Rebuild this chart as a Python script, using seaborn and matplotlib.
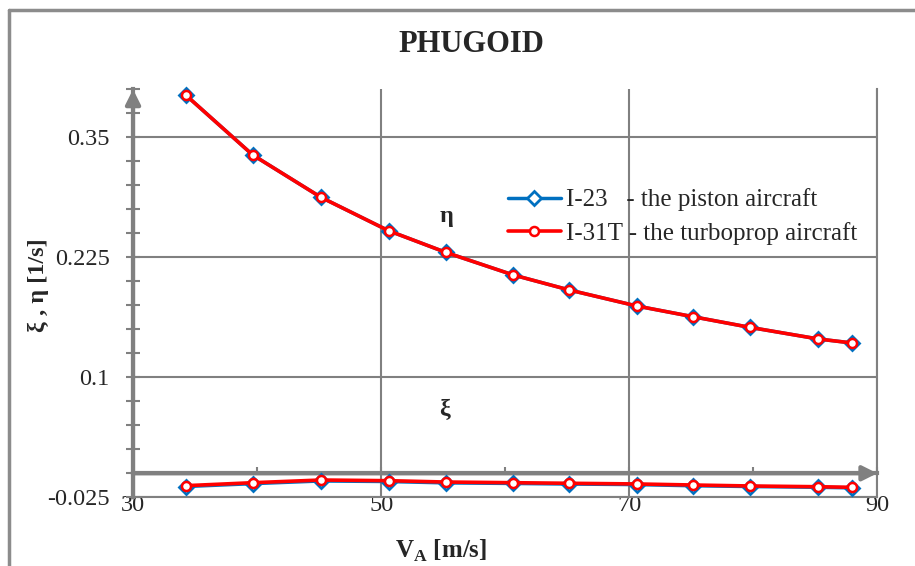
import pandas as pd
import matplotlib.pyplot as plt
import seaborn as sns
from matplotlib.lines import Line2D
from matplotlib.ticker import FixedLocator, MultipleLocator

# flight speed V_A [m/s]
speed = [34.25, 39.65, 45.15, 50.6, 55.2, 60.65, 65.15, 70.6, 75.15, 79.7, 85.25, 88.0]

# I-31T turboprop aircraft
eta_i31t = [0.394, 0.3316, 0.2875, 0.2527, 0.2302, 0.2066, 0.191, 0.1743, 0.1631, 0.1521, 0.1399, 0.1357]
xi_i31t = [-0.0129, -0.0098, -0.0070, -0.0077, -0.0091, -0.0098, -0.0104, -0.0111, -0.0122, -0.0132, -0.0140, -0.0146]

# I-23 piston aircraft
eta_i23 = [0.394, 0.3316, 0.2875, 0.2527, 0.2302, 0.2066, 0.191, 0.1743, 0.1631, 0.1521, 0.1399, 0.1357]
xi_i23 = [-0.0138, -0.0108, -0.0080, -0.0086, -0.0100, -0.0106, -0.0112, -0.0118, -0.0130, -0.0138, -0.0146, -0.0152]

x_ticks = [30, 50, 70, 90]
y_ticks = [-0.025, 0.1, 0.225, 0.35]
y_tick_labels = ['-0.025', '0.1', '0.225', '0.35']

label_i23 = 'I-23   - the piston aircraft'
label_i31t = 'I-31T - the turboprop aircraft'

GREY = '#808080'
BLUE = '#0070C0'
RED = '#FF0000'

sns.set_style('white')
plt.rcParams['font.family'] = ['Liberation Serif', 'DejaVu Serif']
plt.rcParams['mathtext.fontset'] = 'custom'
plt.rcParams['mathtext.rm'] = 'Liberation Serif'
plt.rcParams['mathtext.bf'] = 'Liberation Serif:bold'

df_i23 = pd.DataFrame({'V': speed, 'eta': eta_i23, 'xi': xi_i23})
df_i31t = pd.DataFrame({'V': speed, 'eta': eta_i31t, 'xi': xi_i31t})

fig = plt.figure(figsize=(9.15, 5.66), dpi=100)
ax = fig.add_axes([0.1454, 0.1214, 0.8134, 0.7208])

blue_kw = dict(color=BLUE, lw=2.5, marker='D', markersize=7.5, markerfacecolor='white',
               markeredgecolor=BLUE, markeredgewidth=2, clip_on=False, zorder=4)
red_kw = dict(color=RED, lw=2.6, marker='o', markersize=6.5, markerfacecolor='white',
              markeredgecolor=RED, markeredgewidth=1.8, clip_on=False, zorder=5)

sns.lineplot(data=df_i23, x='V', y='eta', ax=ax, label=label_i23, sort=False, estimator=None, **blue_kw)
sns.lineplot(data=df_i23, x='V', y='xi', ax=ax, sort=False, estimator=None, **blue_kw)
sns.lineplot(data=df_i31t, x='V', y='eta', ax=ax, label=label_i31t, sort=False, estimator=None, **red_kw)
sns.lineplot(data=df_i31t, x='V', y='xi', ax=ax, sort=False, estimator=None, **red_kw)

ax.set_xlim(30, 90)
ax.set_ylim(-0.025, 0.4)

ax.xaxis.set_major_locator(FixedLocator(x_ticks))
ax.xaxis.set_minor_locator(FixedLocator([40, 60, 80]))
ax.yaxis.set_major_locator(FixedLocator(y_ticks))
ax.yaxis.set_minor_locator(MultipleLocator(0.025))
ax.set_yticklabels(y_tick_labels)
ax.grid(True, which='major', color=GREY, lw=1.5)

# axes drawn like the Excel original: y axis at V=30, x axis crossing at 0
ax.spines['top'].set_position(('data', 0))
for side in ['left', 'top']:
    ax.spines[side].set_color(GREY)
    ax.spines[side].set_linewidth(3)
for side in ['bottom', 'right']:
    ax.spines[side].set_color(GREY)
    ax.spines[side].set_linewidth(1.5)

ax.xaxis.set_ticks_position('both')
ax.tick_params(axis='x', which='both', bottom=False, top=True, labelbottom=True, labeltop=False,
               direction='out', length=4.5, width=1.5, color=GREY, labelsize=17.5, pad=-6)
ax.tick_params(axis='y', which='both', left=True, right=False, direction='inout',
               length=9.4, width=1.5, color=GREY, labelsize=17.5, pad=12)

arrow = dict(arrowstyle='-|>', color=GREY, lw=3, mutation_scale=22, shrinkA=0, shrinkB=0)
ax.annotate('', xy=(0, 1), xycoords='axes fraction', xytext=(0, 0), textcoords='axes fraction',
            arrowprops=arrow, annotation_clip=False)
ax.annotate('', xy=(1, 0), xycoords=('axes fraction', 'data'), xytext=(0, 0),
            textcoords=('axes fraction', 'data'), arrowprops=arrow, annotation_clip=False)

ax.set_xlabel(r'V$_{\mathbf{A}}$ [m/s]', fontsize=18, fontweight='bold')
ax.set_ylabel('ξ , η [1/s]', fontsize=17.5, fontweight='bold')
ax.xaxis.set_label_coords(0.414, -0.100)
ax.yaxis.set_label_coords(-0.113, 0.52)

ax.text(55.3, 0.268, 'η', fontsize=17.5, fontweight='bold', ha='center', va='center')
ax.text(55.1, 0.067, 'ξ', fontsize=17.5, fontweight='bold', ha='center', va='center')

ax.legend(loc='upper left', bbox_to_anchor=(0.504, 0.757), frameon=False, fontsize=18,
          borderpad=0, borderaxespad=0, handlelength=2.1, handletextpad=0.2, labelspacing=0.42)

fig.text(0.515, 1 - 45 / 566, 'PHUGOID', ha='center', va='center', fontsize=22, fontweight='bold')

# chart frame
fig.add_artist(Line2D([0.0098, 0.0098], [0, 0.9823], color='#8c8c8c', lw=2.5, transform=fig.transFigure))
fig.add_artist(Line2D([0.0098, 1], [0.9823, 0.9823], color='#8c8c8c', lw=2.5, transform=fig.transFigure))

fig.savefig('out.png', dpi=100)
